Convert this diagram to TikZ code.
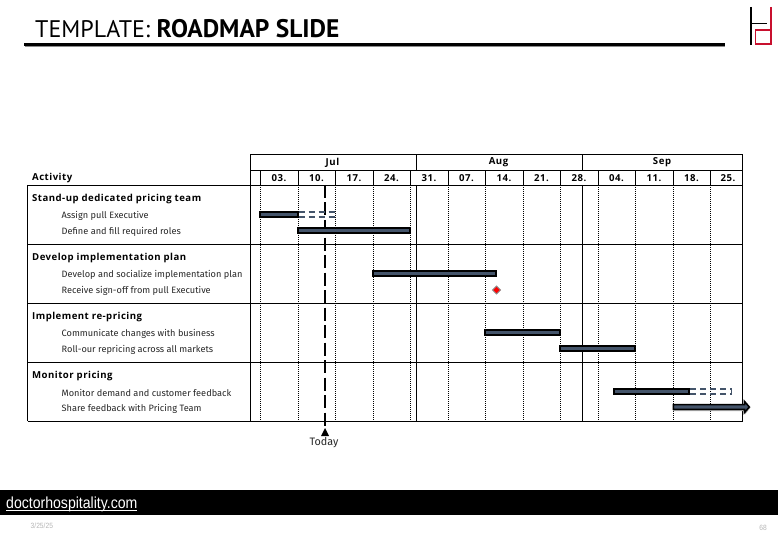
\documentclass[tikz,border=0pt]{standalone}
\usepackage{fontspec}
\setmainfont{Fira Sans}
\newfontfamily\titlefont{PT Sans}
\newfontfamily\headfont[LetterSpace=5]{Open Sans}
\newfontfamily\weekfont[LetterSpace=6]{Open Sans}
\newfontfamily\footfont[FakeStretch=0.88]{Liberation Sans}
\definecolor{barblue}{HTML}{44546A}
\definecolor{logored}{HTML}{C8102E}
\definecolor{footgrey}{HTML}{B5B5B5}
\definecolor{txtdark}{HTML}{262626}
\newcommand{\txtsize}[1]{\fontsize{#1}{#1}\selectfont}
\tikzset{
  gridsolid/.style={line width=0.9pt,black},
  griddot/.style={line width=0.7pt,black,dash pattern=on 1.3pt off 0.7pt},
  taskbar/.style={draw=black,fill=barblue,line width=2pt},
  planbar/.style={draw=barblue,line width=1.8pt,dash pattern=on 6pt off 4pt},
  headlabel/.style={font=\weekfont\txtsize{9.6}\bfseries,inner sep=0pt},
  grouplabel/.style={font=\headfont\txtsize{9.6}\bfseries,inner sep=0pt,anchor=west},
  tasklabel/.style={font=\txtsize{9.2},text=txtdark,inner sep=0pt,anchor=west},
}
\begin{document}
\begin{tikzpicture}[x=1pt,y=-1pt]
\useasboundingbox (0,0) rectangle (778,537);
% title
\node[inner sep=0pt,anchor=west,font=\titlefont] (title) at (35,29) {\txtsize{24}TEMPLATE: \txtsize{25.4}\textbf{ROADMAP SLIDE}};
\draw[line width=1.5pt,black!45] (25,46.6) -- (725,46.6);
\draw[line width=3pt,black] (24,44.5) -- (725,44.5);
% logo
\draw[line width=1.7pt,black] (750.7,7) -- (750.7,45);
\draw[line width=1.5pt,black] (751,23.4) -- (767,23.4);
\draw[line width=1.7pt,logored] (770.8,7) -- (770.8,44) -- (755.4,44) -- (755.4,30) -- (770.8,30);
% dotted week lines
\foreach \x in {260.5,298.5,335.5,373.5,410.5,448.5,485.5,523.5,560.5,598.5,635.5,673.5,710.5}{
  \draw[griddot] (\x,185) -- (\x,421.3);
  \draw[gridsolid] (\x,170.5) -- (\x,185);
}
% table frame
\draw[gridsolid] (250.5,154.5) -- (742.5,154.5);
\draw[gridsolid] (250.5,170.5) -- (742.5,170.5);
\draw[gridsolid] (27.5,185) -- (742.5,185);
\draw[gridsolid] (27.5,244.3) -- (742.5,244.3);
\draw[gridsolid] (27.5,303.3) -- (742.5,303.3);
\draw[gridsolid] (27.5,362.3) -- (742.5,362.3);
\draw[gridsolid] (27.5,421.3) -- (742.5,421.3);
\draw[gridsolid] (27.5,185) -- (27.5,421.3);
\draw[gridsolid] (250.5,154.5) -- (250.5,421.3);
\draw[gridsolid] (742.5,154.5) -- (742.5,421.3);
\draw[gridsolid] (416.5,154.5) -- (416.5,170.5);
\draw[gridsolid] (582.5,154.5) -- (582.5,170.5);
\draw[gridsolid] (416.5,185) -- (416.5,421.3);
\draw[gridsolid] (582.5,185) -- (582.5,421.3);
% headers
\node[headlabel] (jul) at (332.5,162.5) {Jul};
\node[headlabel] (aug) at (498.5,162.5) {Aug};
\node[headlabel] (sep) at (662,162.5) {Sep};
\node[grouplabel] (activity) at (32,178.2) {Activity};
\foreach \x/\t [count=\i] in {279/03.,316.5/10.,354/17.,391.5/24.,429/31.,466.5/07.,504/14.,541.5/21.,579/28.,616.5/04.,654/11.,691.5/18.,728/25.}{
  \node[headlabel] (week\i) at (\x,178) {\t};
}
% labels
\node[grouplabel] (g1) at (32,199.2) {Stand-up dedicated pricing team};
\node[tasklabel] (t11) at (61.5,215.7) {Assign pull Executive};
\node[tasklabel] (t12) at (61.5,231.7) {Define and fill required roles};
\node[grouplabel] (g2) at (32,258.4) {Develop implementation plan};
\node[tasklabel] (t21) at (61.5,274.7) {Develop and socialize implementation plan};
\node[tasklabel] (t22) at (61.5,290.7) {Receive sign-off from pull Executive};
\node[grouplabel] (g3) at (32,317.4) {Implement re-pricing};
\node[tasklabel] (t31) at (61.5,333.7) {Communicate changes with business};
\node[tasklabel] (t32) at (61.5,349.7) {Roll-our repricing across all markets};
\node[grouplabel] (g4) at (32,376.4) {Monitor pricing};
\node[tasklabel] (t41) at (61.5,392.7) {Monitor demand and customer feedback};
\node[tasklabel] (t42) at (61.5,408.7) {Share feedback with Pricing Team};
% today line
\node[inner sep=0pt,font=\txtsize{10.8},text=txtdark] (today) at (324,442.5) {Today};
\coordinate (todaytop) at (325,185);
\coordinate (todaybot) at (325,429);
\draw[line width=2pt,black,dash pattern=on 13pt off 4.5pt] (todaytop) -- (todaybot);
\fill[black] (325,428) -- (329,436) -- (321,436) -- cycle;
% bars
\draw[planbar] (298.5,212) -- (335.5,212);
\draw[planbar] (298.5,216.8) -- (335.5,216.8);
\draw[taskbar] (260,212.3) rectangle (298,216.7);
\draw[taskbar] (298,228.3) rectangle (410,232.7);
\draw[taskbar] (373,271.3) rectangle (496,275.7);
\draw[taskbar] (485,330.3) rectangle (560,334.7);
\draw[taskbar] (560,346.3) rectangle (635,350.7);
\draw[planbar] (690,389) -- (731.5,389);
\draw[planbar] (690,393.8) -- (731.5,393.8);
\draw[line width=1.2pt,barblue] (731.5,388.3) -- (731.5,394.5);
\draw[taskbar] (614,389.3) rectangle (689,393.7);
\fill[black!30] (673,406) -- (745,406) -- (745,401) -- (750.5,407.5) -- (745,414.5) -- (745,411) -- (673,411) -- cycle;
\draw[draw=black,fill=barblue,line width=1.6pt,line join=miter] (673.3,404.6) -- (744.5,404.6) -- (744.5,401.5) -- (749.3,407) -- (744.5,412.5) -- (744.5,409.3) -- (673.3,409.3) -- cycle;
\draw[line width=0.8pt,black!45,fill=red] (496.5,286) -- (500.5,290) -- (496.5,294) -- (492.5,290) -- cycle;
% footer
\fill[black] (0,490) rectangle (778,515);
\node[inner sep=0pt,anchor=base west,text=white,font=\footfont\txtsize{16}] (site) at (6,508) {doctorhospitality.com};
\draw[white,line width=0.8pt] (site.base west |- 0,510.2) -- (137,510.2);
\node[inner sep=0pt,anchor=west,text=footgrey,font=\footfont\txtsize{7.6}] (date) at (30.5,525.5) {3/25/25};
\node[inner sep=0pt,anchor=east,text=footgrey,font=\footfont\txtsize{7.6}] (page) at (767,527.5) {68};
\end{tikzpicture}
\end{document}
